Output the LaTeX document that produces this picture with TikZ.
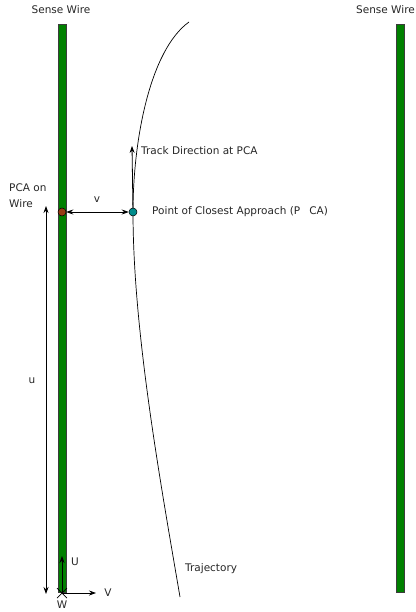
\documentclass[tikz,border=0pt]{standalone}
\usepackage{fontspec}
\setmainfont{DejaVu Sans}
\usetikzlibrary{arrows.meta,calc}
\definecolor{wiregreen}{RGB}{0,128,0}
\definecolor{wireedge}{RGB}{60,60,60}
\definecolor{pcabrown}{RGB}{150,60,20}
\definecolor{pcateal}{RGB}{0,140,140}
\tikzset{
  wire/.style={draw=wireedge, line width=0.8pt, fill=wiregreen, minimum width=8pt, minimum height=568pt, inner sep=0pt, outer sep=0pt},
  lbl/.style={font=\fontsize{10.5}{15.5}\selectfont, text=black!85, inner sep=0pt},
  dot/.style={circle, draw=black, line width=0.5pt, minimum size=8pt, inner sep=0pt},
  arr/.style={line width=0.8pt, -{Stealth[length=7pt,width=5pt]}},
  darr/.style={line width=0.8pt, {Stealth[length=7pt,width=5pt]}-{Stealth[length=7pt,width=5pt]}},
}
\begin{document}
\begin{tikzpicture}[x=1pt,y=-1pt]
\useasboundingbox (0,0) rectangle (415,612);

% sense wires
\node[wire] (wireL) at (62,308) {};
\node[wire] (wireR) at (400,308) {};
\node[lbl] (senseL) at (61,10) {Sense Wire};
\node[lbl] (senseR) at (385.5,10) {Sense Wire};

% trajectory
\coordinate (trTop) at (189,22);
\coordinate (pcaPt) at (133,212);
\coordinate (trBot) at (180,597);
\draw[line width=0.7pt] (trTop) .. controls (150,50) and (133,140) .. (pcaPt)
  .. controls (133,330) and (160,480) .. (trBot);

% track direction at the point of closest approach
\coordinate (dirTip) at (132,146);
\draw[arr] (pcaPt) -- (dirTip);
\node[lbl, anchor=west] (dirLbl) at (141,151) {Track Direction at PCA};

% points of closest approach
\node[dot, fill=pcabrown] (pcaW) at (62,212) {};
\node[dot, fill=pcateal] (pcaT) at (pcaPt) {};
\draw[darr] (pcaW) -- (pcaT);
\node[lbl] (vLbl) at (97,200) {v};
\node[lbl, anchor=west] (pcaLbl) at (152,212) {Point of Closest Approach (P\hspace{9pt}CA)};
\node[lbl, anchor=north west, align=left] (pcaWLbl) at (9,184) {PCA on\\Wire};

% distance along the wire
\coordinate (uTop) at (46,206);
\coordinate (uBot) at (46,594);
\draw[darr] (uTop) -- (uBot);
\node[lbl] (uLbl) at (32,381) {u};

% local frame
\coordinate (orig) at (62,593);
\coordinate (uTip) at (62,556);
\coordinate (vTip) at (96,593);
\draw[arr] (orig) -- (uTip);
\draw[arr] (orig) -- (vTip);
\draw[line width=0.7pt] ($(orig)+(-5,-5)$) -- ($(orig)+(5,5)$) ($(orig)+(-5,5)$) -- ($(orig)+(5,-5)$);
\node[lbl] (ULbl) at (75,562) {U};
\node[lbl] (VLbl) at (108,593) {V};
\node[lbl] (WLbl) at (62,605) {W};

\node[lbl, anchor=west] (trLbl) at (185,569) {Trajectory};
\end{tikzpicture}
\end{document}
